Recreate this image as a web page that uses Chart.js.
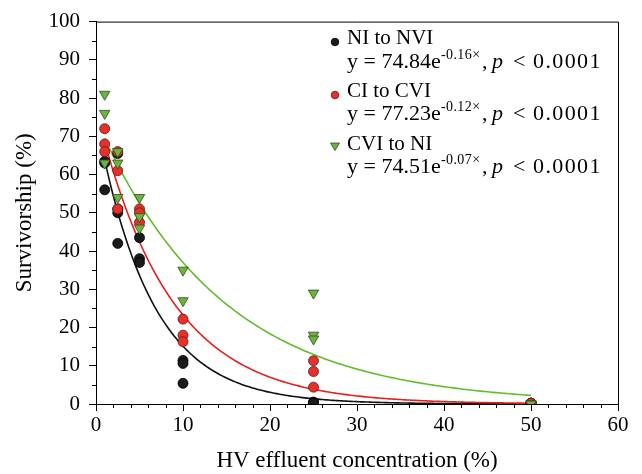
<!DOCTYPE html>
<html><head><meta charset="utf-8">
<script src="https://cdn.jsdelivr.net/npm/chart.js@4.4.1/dist/chart.umd.min.js"></script>
<style>html,body{margin:0;padding:0;background:#fff}#wrap{width:642px;height:474px;position:relative}</style>
</head><body><div id="wrap"><canvas id="c" width="642" height="474"></canvas></div>
<script>
// Observed points
const niX  = [1,1,1,2.5,2.5,2.5,2.5,5,5,5,10,10,10,25,25,25,50,50,50];
const niY  = [56,63,63.5,65.5,51,50,42,43.5,38,37,11.4,10.6,5.4,0.5,0.3,0.2,0.2,0.2,0.2];
const ciX  = [1,1,1,2.5,2.5,2.5,5,5,5,10,10,10,25,25,25,50,50,50];
const ciY  = [72,68,66,66,61,51,51,50,47.5,22.2,18,16.3,11.3,8.5,4.4,0.2,0.2,0.2];
const cviX = [1,1,1,2.5,2.5,2.5,5,5,5,10,10,25,25,25,50,50,50];
const cviY = [81,76,63,66,63,54,54,49,46,35,27,29,18,17,0,0,0];
// Fitted models shown in the legend: y = a * e^(b x)
const niFit  = [74.84, -0.16];
const ciFit  = [77.23, -0.12];
const cviFit = [74.51, -0.07];
const fitRange = [1, 50];
const seriesNames = ['NI to NVI','CI to CVI','CVI to NI'];
const eqTexts = [['74.84','-0.16\u00d7'],['77.23','-0.12\u00d7'],['74.51','-0.07\u00d7']];

const xTicks = [0,10,20,30,40,50,60];
const yTicks = [0,10,20,30,40,50,60,70,80,90,100];

function pts(xs, ys){ return xs.map((x,i)=>({x:x, y:ys[i]})); }
function fitPts(f){ const out=[]; for(let x=fitRange[0]; x<=fitRange[1]+1e-9; x+=0.25){ out.push({x:x, y:f[0]*Math.exp(f[1]*x)}); } return out; }

const FONT = '"Liberation Serif","Times New Roman",serif';
const colBlack = '#1b1b1b', colRed = '#e8302a', colGreen = '#6cb43c';
const lineBlack = '#111111', lineRed = '#e8201c', lineGreen = '#62bd2c';

const extras = {
  id:'extras',
  afterDraw(chart){
    const ctx = chart.ctx, xs = chart.scales.x, ys = chart.scales.y, a = chart.chartArea;
    ctx.save();
    ctx.strokeStyle = '#000'; ctx.lineWidth = 1;
    ctx.beginPath();
    ctx.moveTo(a.left, a.top+0.5); ctx.lineTo(a.right+0.5, a.top+0.5); ctx.lineTo(a.right+0.5, a.bottom);
    ctx.stroke();
    ctx.beginPath();
    for(let v=0; v<=60; v+=2){ if(v%10===0) continue; const p=Math.round(xs.getPixelForValue(v))+0.5; ctx.moveTo(p,a.bottom); ctx.lineTo(p,a.bottom+4); }
    for(let v=5; v<100; v+=10){ const p=Math.round(ys.getPixelForValue(v))+0.5; ctx.moveTo(a.left,p); ctx.lineTo(a.left-4,p); }
    ctx.stroke();
    // legend
    const mx = 335, tx = 347;
    const rows = [[44,68],[97,120],[150,173]];
    const cols = [colBlack, colRed, colGreen];
    for(let i=0;i<3;i++){
      const [b1,b2] = rows[i];
      ctx.fillStyle = cols[i];
      ctx.strokeStyle = i===0 ? '#000' : (i===1 ? '#5a1a16' : '#2f4d22');
      ctx.lineWidth = 0.8;
      ctx.beginPath();
      if(i<2){ ctx.arc(mx, b1-2, 3.8, 0, Math.PI*2); }
      else { ctx.moveTo(mx-4.5, b1-7); ctx.lineTo(mx+4.5, b1-7); ctx.lineTo(mx, b1+0.5); ctx.closePath(); }
      ctx.fill(); ctx.stroke();
      ctx.fillStyle = '#000';
      ctx.textBaseline = 'alphabetic'; ctx.textAlign = 'left';
      ctx.letterSpacing = '0px';
      ctx.font = '21px ' + FONT;
      ctx.fillText(seriesNames[i], tx, b1);
      ctx.font = '22px ' + FONT;
      ctx.fillText('y = ' + eqTexts[i][0] + 'e', tx, b2);
      ctx.font = '14px ' + FONT;
      ctx.letterSpacing = '0.4px';
      ctx.fillText(eqTexts[i][1], tx+94, b2-9);
      ctx.letterSpacing = '0px';
      ctx.font = '22px ' + FONT;
      ctx.fillText(',', tx+135, b2);
      ctx.font = 'italic 22px ' + FONT;
      ctx.fillText('p', tx+145, b2);
      ctx.font = '22px ' + FONT;
      ctx.fillText('<', tx+166, b2);
      ctx.letterSpacing = '1.4px';
      ctx.fillText('0.0001', tx+186, b2);
      ctx.letterSpacing = '0px';
    }
    ctx.restore();
  }
};

function scatterDs(data, color, border, style, r, order){
  return {type:'scatter', data:data, showLine:false, backgroundColor:color, borderColor:border, borderWidth:0.8,
    pointStyle:style, pointRadius:r, pointHoverRadius:r, order:order};
}
function lineDs(data, color, order){
  return {type:'line', data:data, borderColor:color, borderWidth:1.6, pointRadius:0, fill:false, tension:0, order:order};
}

new Chart(document.getElementById('c'), {
  data:{ datasets:[
    lineDs(fitPts(niFit), lineBlack, 10),
    lineDs(fitPts(ciFit), lineRed, 9),
    lineDs(fitPts(cviFit), lineGreen, 8),
    scatterDs(pts(niX,niY), colBlack, '#000', 'circle', 5, 3),
    scatterDs(pts(ciX,ciY), colRed, '#5a1a16', 'circle', 5, 2),
    {...scatterDs(pts(cviX,cviY), colGreen, '#2f4d22', 'triangle', 6, 1), rotation:180}
  ]},
  options:{
    responsive:false, animation:false, devicePixelRatio:1,
    layout:{padding:{left:0, right:24, top:17, bottom:0}},
    plugins:{legend:{display:false}, tooltip:{enabled:false}},
    scales:{
      x:{type:'linear', min:0, max:60, afterFit(s){ s.height = 70; },
        afterBuildTicks(s){ s.ticks = xTicks.map(v=>({value:v})); },
        grid:{display:true, drawOnChartArea:false, drawTicks:true, tickLength:7, color:'#000', lineWidth:1},
        border:{display:true, color:'#000', width:1},
        ticks:{font:{family:FONT, size:21}, color:'#000', padding:2, maxRotation:0},
        title:{display:true, text:'HV effluent concentration (%)', font:{family:FONT, size:23}, color:'#000', padding:{top:0,bottom:-1}}
      },
      y:{type:'linear', min:0, max:100, afterFit(s){ s.width = 96; },
        afterBuildTicks(s){ s.ticks = yTicks.map(v=>({value:v})); },
        grid:{display:true, drawOnChartArea:false, drawTicks:true, tickLength:7, color:'#000', lineWidth:1},
        border:{display:true, color:'#000', width:1},
        ticks:{font:{family:FONT, size:21}, color:'#000', padding:9},
        title:{display:true, text:'Survivorship (%)', font:{family:FONT, size:23}, color:'#000', padding:{top:11,bottom:0}}
      }
    }
  },
  plugins:[extras]
});
</script></body></html>
